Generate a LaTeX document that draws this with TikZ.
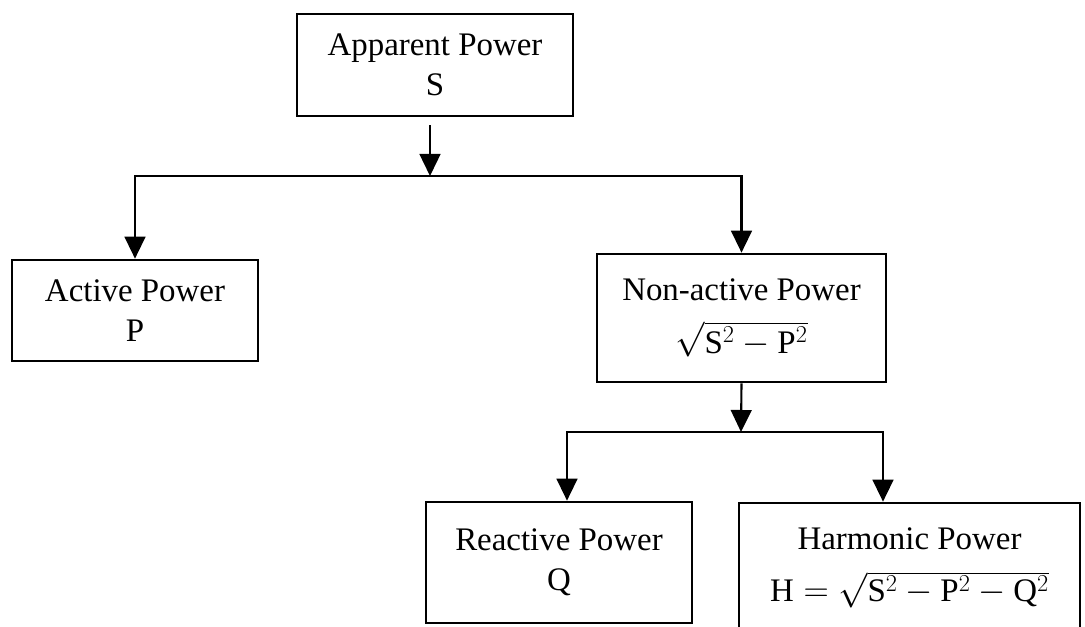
\documentclass[tikz,border=0pt]{standalone}
\usepackage{fontspec}
\setmainfont{Liberation Serif}
\usepackage{amsmath}
\usetikzlibrary{arrows.meta, calc}

\begin{document}
\begin{tikzpicture}[
  x=0.025cm, y=-0.025cm,
  every node/.style = {font=\fontsize{23.4}{28.5}\selectfont},
  % node styles
  pbox/.style = {rectangle, draw=black, line width=1.9pt, inner sep=0pt,
                 align=center},
  % arrow styles
  arr/.style  = {-{Triangle[width=0.52cm, length=0.55cm]}, line width=1.5pt,
                 line join=miter},
]
\useasboundingbox (0,0) rectangle (1085,626);

%% Top: total power
\node[pbox, minimum width=6.9cm, minimum height=2.55cm] (app) at (435,65)
  {Apparent Power\\S};

%% Level 2
\node[pbox, minimum width=6.15cm, minimum height=2.525cm] (act) at (135,310.5)
  {Active Power\\P};
\node[pbox, minimum width=7.225cm, minimum height=3.2cm] (non) at (741.5,318)
  {Non-active Power\\[9pt]$\sqrt{\mathrm{S}^2-\mathrm{P}^2}$};

%% Level 3
\node[pbox, minimum width=6.65cm, minimum height=3.025cm] (rea) at (559,562.5)
  {Reactive Power\\Q};
\node[pbox, minimum width=8.525cm, minimum height=3.225cm] (har) at (909.5,567.5)
  {Harmonic Power\\[9pt]$\mathrm{H}=\sqrt{\mathrm{S}^2-\mathrm{P}^2-\mathrm{Q}^2}$};

%% Branch points
\coordinate (j1) at (430,176);
\coordinate (j2) at (741,432);

%% Split of S
\draw[arr, shorten <=0.2cm] (app.south -| j1) -- (j1);
\draw[arr] (j1) -| (act.north);
\draw[arr] (j1) -| (non.north);

%% Split of non-active power
\draw[arr] (non.south) -- (j2);
\draw[arr] (j2) -| ($(rea.north)+(8,0)$);
\draw[arr] (j2) -| ($(har.north)+(-26.5,0)$);

\end{tikzpicture}
\end{document}
